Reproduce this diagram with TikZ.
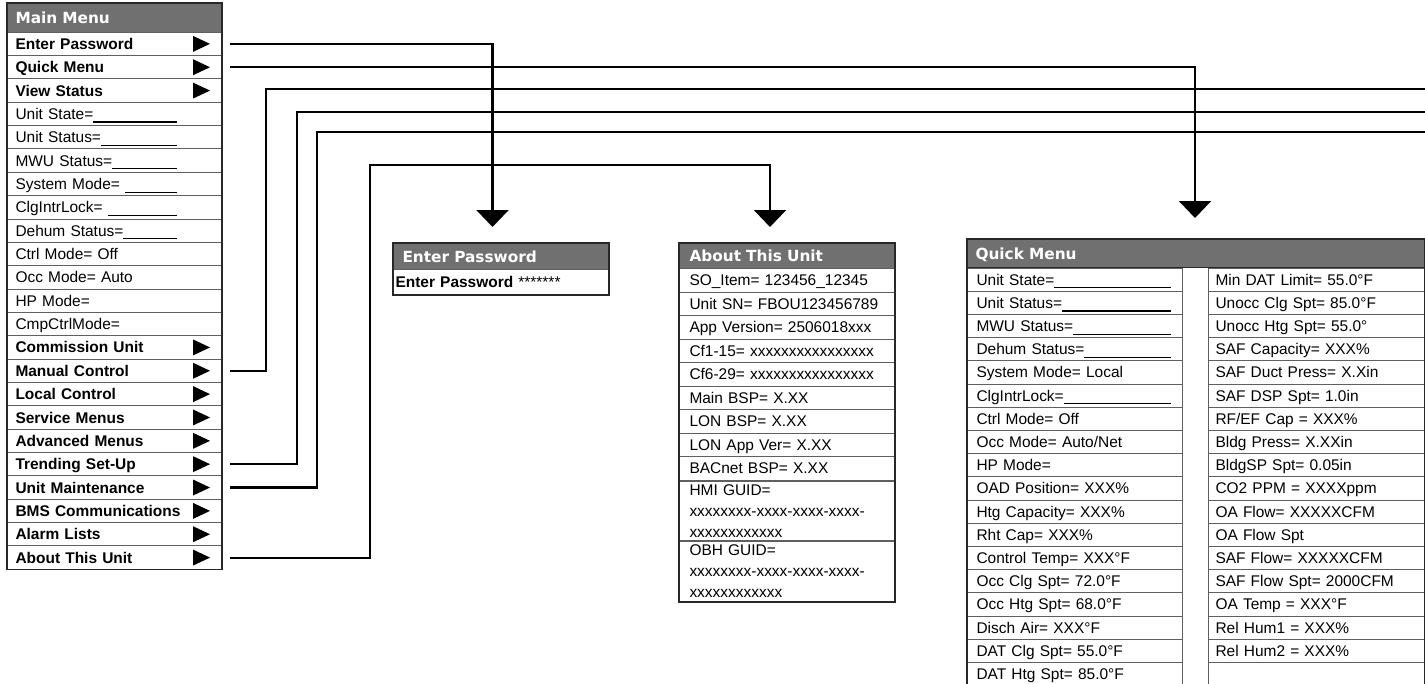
\documentclass[tikz,border=0pt]{standalone}
\usepackage{fontspec}
\setmainfont{Liberation Sans}
\newfontfamily\headfont{DejaVu Sans}
\usetikzlibrary{arrows.meta}

\definecolor{headgray}{RGB}{112,112,112}
\definecolor{rowline}{RGB}{95,95,95}
\definecolor{boxline}{RGB}{40,40,40}

% text followed by an underline blank up to a fixed width
\newcommand\fillto[2]{\makebox[#1][l]{#2\leaders\hrule height -1.5pt depth 2.4pt\hfill}}

\tikzset{every picture/.style={line width=0.75pt}}
\tikzset{
  head/.style={anchor=north west, draw=boxline, fill=headgray, text=white, inner ysep=0pt, align=left,
    text height=8.4pt, text depth=0pt, font=\headfont\bfseries\fontsize{11.5pt}{14pt}\selectfont},
  row/.style={anchor=north west, draw=rowline, inner ysep=0pt, align=left,
    text height=8.3pt, text depth=0pt, font=\fontsize{11.6pt}{14pt}\selectfont},
  tallrow/.style={anchor=north west, draw=rowline, inner ysep=0pt, align=left,
    font=\fontsize{11.6pt}{15.75pt}\selectfont},
  mmhead/.style={head, text width=148.5pt, inner xsep=6pt, minimum height=21.5pt},
  mmrow/.style={row, text width=148.5pt, inner xsep=6pt, minimum height=17.51pt},
  ephead/.style={head, text width=147.75pt, inner xsep=6.75pt, minimum height=19.5pt},
  eprow/.style={row, text width=158.25pt, inner xsep=1.5pt, minimum height=18.75pt},
  auhead/.style={head, text width=146.25pt, inner xsep=7.5pt, minimum height=18.75pt},
  aurow/.style={row, text width=146.25pt, inner xsep=7.5pt, minimum height=17.63pt},
  qmhead/.style={head, text width=330.75pt, inner xsep=6pt, minimum height=21pt},
  qlrow/.style={row, text width=147.75pt, inner xsep=6.75pt, minimum height=17.4pt},
  qrrow/.style={row, text width=151.5pt, inner xsep=5.25pt, minimum height=17.4pt},
  border/.style={draw=boxline, line width=1.1pt},
  link/.style={line width=1.6pt, shorten <=6pt},
  into/.style={-{Triangle[width=24pt,length=12.75pt]}}
}

\begin{document}
\begin{tikzpicture}[x=0.75pt,y=0.75pt,yscale=-1,xscale=1]
\useasboundingbox (0,0) rectangle (1425,683);
\clip (0,0) rectangle (1425,683);

%Main Menu
\node[mmhead] (mm-head) at (7,3) {Main Menu};
\foreach \txt/\go [count=\i] in {
  {Enter Password}/1, {Quick Menu}/1, {View Status}/1,
  {\fillto{121pt}{Unit State=}}/0, {\fillto{121pt}{Unit Status=}}/0,
  {\fillto{121pt}{MWU Status=}}/0, {\fillto{121pt}{System Mode= }}/0,
  {\fillto{121pt}{ClgIntrLock= }}/0, {\fillto{121pt}{Dehum Status=}}/0,
  {Ctrl Mode= Off}/0, {Occ Mode= Auto}/0, {HP Mode=}/0, {CmpCtrlMode=}/0,
  {Commission Unit}/1, {Manual Control}/1, {Local Control}/1, {Service Menus}/1,
  {Advanced Menus}/1, {Trending Set-Up}/1, {Unit Maintenance}/1,
  {BMS Communications}/1, {Alarm Lists}/1, {About This Unit}/1}{
  \node[mmrow] (mm-\i) at (7,{31.7+23.35*(\i-1)}) {\ifnum\go=1 \bfseries\fi\txt};
  \ifnum\go=1 \fill (mm-\i.east) ++(-29,-8) -- ++(17,8) -- ++(-17,8) -- cycle; \fi
}
\draw[border] (mm-head.north west) rectangle (mm-23.south east);

%Enter Password
\node[ephead] (ep-head) at (393,243) {Enter Password};
\node[eprow] (ep-1) at (393,269) {\textbf{Enter Password} *******};
\draw[border] (ep-head.north west) rectangle (ep-1.south east);

%About This Unit
\node[auhead] (au-head) at (679,243) {About This Unit};
\foreach \txt [count=\i] in {
  SO\_Item= 123456\_12345, Unit SN= FBOU123456789, App Version= 2506018xxx,
  Cf1-15= xxxxxxxxxxxxxxxx, Cf6-29= xxxxxxxxxxxxxxxx, Main BSP= X.XX,
  LON BSP= X.XX, LON App Ver= X.XX, BACnet BSP= X.XX}{
  \node[aurow] (au-\i) at (679,{268+23.5*(\i-1)}) {\txt};
}
\node[tallrow, text width=146.25pt, inner xsep=7.5pt, minimum height=44.6pt] (au-10) at (au-9.south west)
  {HMI GUID=\\xxxxxxxx-xxxx-xxxx-xxxx-\\xxxxxxxxxxxx};
\node[tallrow, text width=146.25pt, inner xsep=7.5pt, minimum height=45pt] (au-11) at (au-10.south west)
  {OBH GUID=\\xxxxxxxx-xxxx-xxxx-xxxx-\\xxxxxxxxxxxx};
\draw[border] (au-head.north west) rectangle (au-11.south east);

%Quick Menu
\node[qmhead] (qm-head) at (967,239) {Quick Menu};
\foreach \txt [count=\i] in {
  \fillto{146pt}{Unit State=}, \fillto{146pt}{Unit Status=}, \fillto{146pt}{MWU Status=},
  \fillto{146pt}{Dehum Status=}, System Mode= Local, \fillto{146pt}{ClgIntrLock=},
  Ctrl Mode= Off, Occ Mode= Auto/Net, HP Mode=, OAD Position= XXX\%,
  Htg Capacity= XXX\%, Rht Cap= XXX\%, Control Temp= XXX°F, Occ Clg Spt= 72.0°F,
  Occ Htg Spt= 68.0°F, Disch Air= XXX°F, DAT Clg Spt= 55.0°F, DAT Htg Spt= 85.0°F}{
  \node[qlrow] (ql-\i) at (967,{267.5+23.2*(\i-1)}) {\txt};
}
\foreach \txt [count=\i] in {
  Min DAT Limit= 55.0°F, Unocc Clg Spt= 85.0°F, Unocc Htg Spt= 55.0°,
  SAF Capacity= XXX\%, SAF Duct Press= X.Xin, SAF DSP Spt= 1.0in,
  RF/EF Cap = XXX\%, Bldg Press= X.XXin, BldgSP Spt= 0.05in,
  CO2 PPM = XXXXppm, OA Flow= XXXXXCFM, OA Flow Spt, SAF Flow= XXXXXCFM,
  SAF Flow Spt= 2000CFM, OA Temp = XXX°F, Rel Hum1 = XXX\%, Rel Hum2 = XXX\%, {}}{
  \node[qrrow] (qr-\i) at (1208,{267.5+23.2*(\i-1)}) {\txt};
}
\draw[border] (qm-head.north west) rectangle (qr-18.south east);

%Connectors
\coordinate (ep-in) at (492.5,227);
\coordinate (au-in) at (770,227);
\coordinate (qm-in) at (1195,218);
\coordinate (out-a) at (1425,89);
\coordinate (out-b) at (1425,112);
\coordinate (out-c) at (1425,132);

\draw[link,into] (mm-1.east) -| (ep-in);
\draw[link,into] (mm-2.east) -| (qm-in);
\draw[link] (mm-15.east) -- ++(44,0) |- (out-a);
\draw[link] (mm-19.east) -- ++(75,0) |- (out-b);
\draw[link] (mm-20.east) -- ++(95,0) |- (out-c);
\draw[link,into] (mm-23.east) -- ++(148,0) -- ++(0,-393) -| (au-in);

\end{tikzpicture}
\end{document}
